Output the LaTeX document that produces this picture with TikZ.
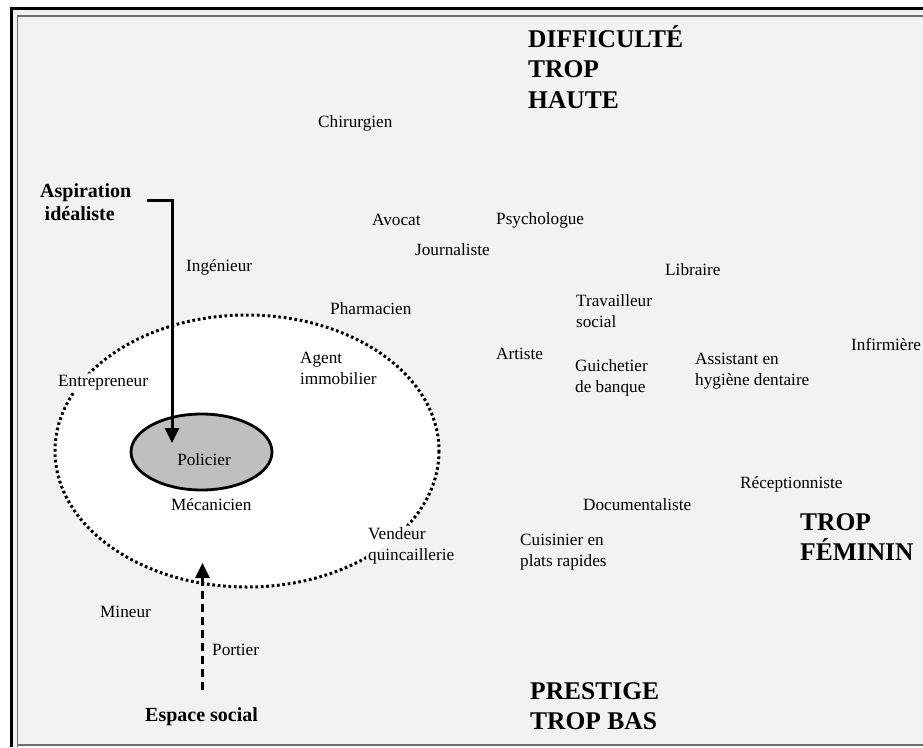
\documentclass[tikz,border=0pt]{standalone}
\usepackage{fontspec}
\setmainfont{Liberation Serif}
\usetikzlibrary{arrows.meta}
\definecolor{bgpanel}{HTML}{F2F2F2}
\definecolor{innerline}{HTML}{6E6E6E}
\definecolor{polfill}{HTML}{BFBFBF}
\begin{document}
\begin{tikzpicture}[x=1pt,y=-1pt,
  lab/.style={font=\fontsize{17.2}{21}\selectfont, inner sep=0pt, anchor=west, align=left},
  blab/.style={font=\fontsize{20}{23}\selectfont\bfseries, inner sep=0pt, anchor=west, align=left},
  big/.style={font=\fontsize{25.5}{30.5}\selectfont\bfseries, inner sep=0pt, anchor=west, align=left},
  arr/.style={line width=3pt, -{Triangle[width=14pt,length=15pt]}},
  gapbox/.style={inner sep=2pt}
]
\useasboundingbox (0,0) rectangle (923,747);
\fill[white] (0,0) rectangle (923,747);
% frame
\fill[bgpanel] (13,10) rectangle (923,747);
\draw[line width=2.8pt] (11.5,747) -- (11.5,8.3) -- (923,8.3);
\draw[innerline, line width=1.8pt] (17.5,747) -- (17.5,15.7) -- (923,15.7);
\draw[innerline, line width=1.8pt] (17.5,745) -- (923,745);
\fill[bgpanel] (18.4,16.6) rectangle (923,744.1);

% zone fill
\coordinate (zc) at (247,451);
\fill[white] (zc) ellipse [x radius=192, y radius=136];

% big labels
\node[big] (diff) at (528,67) {DIFFICULTÉ\\TROP\\HAUTE};
\node[big] (fem) at (800,537) {TROP\\FÉMININ};
\node[big] (prest) at (530,706) {PRESTIGE\\TROP BAS};

% bold labels
\node[blab] (asp) at (40,202) {Aspiration\\\hspace*{4.5pt}idéaliste};
\node[blab] (esp) at (145,717) {Espace social};

% job labels
\node[lab] (chir) at (318,123) {Chirurgien};
\node[lab] (avo) at (372,220) {Avocat};
\node[lab] (psy) at (496,220) {Psychologue};
\node[lab] (jour) at (415,250) {Journaliste};
\node[lab] (ing) at (186,267) {Ingénieur};
\node[lab] (lib) at (665,270) {Libraire};
\node[lab] (pha) at (330,309) {Pharmacien};
\node[lab] (trav) at (576,311) {Travailleur\\social};
\node[lab] (art) at (496,354) {Artiste};
\node[lab] (inf) at (851,345) {Infirmière};
\node[lab] (ass) at (695,371) {Assistant en\\hygiène dentaire};
\node[lab, gapbox] (ent) at (56,383) {Entrepreneur};
\node[lab] (agt) at (300,368) {Agent\\immobilier};
\node[lab] (gui) at (575,378) {Guichetier\\de banque};
\node[lab] (mec) at (171,505) {Mécanicien};
\node[lab] (rec) at (740,484) {Réceptionniste};
\node[lab] (doc) at (583,505) {Documentaliste};
\node[lab, gapbox] (ven) at (366,546) {Vendeur\\quincaillerie};
\node[lab] (cui) at (520,552) {Cuisinier en\\plats rapides};
\node[lab] (min) at (100,612) {Mineur};
\node[lab] (por) at (212,650) {Portier};

% dotted zone outline, interrupted behind two labels
\begin{scope}[even odd rule]
  \clip (0,0) rectangle (923,747)
        (ent.north west) rectangle (ent.south east)
        (ven.north west) rectangle (ven.south east);
  \draw[line width=3pt, dash pattern=on 2.7pt off 2.7pt] (zc) ellipse [x radius=192, y radius=136];
\end{scope}

% Policier ellipse
\coordinate (pc) at (201.5,452);
\filldraw[fill=polfill, draw=black, line width=2.8pt] (pc) ellipse [x radius=70.5, y radius=38];
\node[lab, anchor=center] (pol) at (204,460) {Policier};

% arrows
\coordinate (a0) at (147,200);
\coordinate (a1) at (172,200);
\coordinate (a2) at (172,443);
\draw[arr] (a0) -- (a1) -- (a2);
\coordinate (d0) at (202.5,690);
\coordinate (d1) at (202.5,563);
\draw[arr, dash pattern=on 8pt off 5pt] (d0) -- (d1);
\end{tikzpicture}
\end{document}
